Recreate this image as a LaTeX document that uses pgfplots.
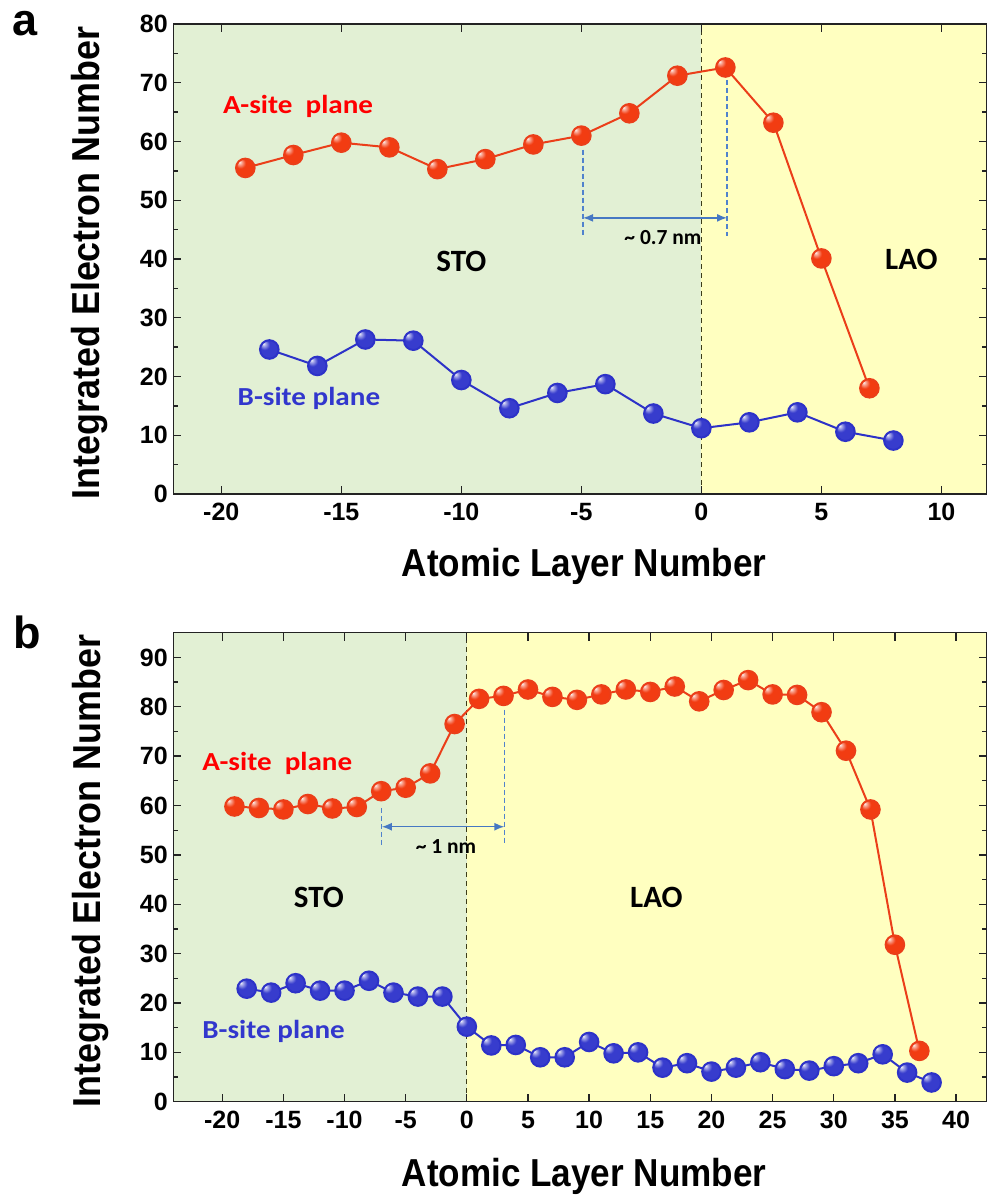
\documentclass[border=0pt]{standalone}
\usepackage{fontspec}
\setmainfont{Liberation Sans}
\newfontfamily\calib{Carlito}
\usepackage{graphicx}
\usepackage{pgfplots}
\pgfplotsset{compat=1.18}
\usetikzlibrary{arrows.meta}
\makeatletter
\pgfdeclareradialshading[tikz@ball]{ball}{\pgfqpoint{-16bp}{16bp}}{%
 color(0bp)=(tikz@ball!5!white);
 color(5bp)=(tikz@ball!45!white);
 color(14bp)=(tikz@ball);
 color(40bp)=(tikz@ball);
 color(55bp)=(tikz@ball!78!black);
 color(75bp)=(tikz@ball!60!black)}
\makeatother
\definecolor{bggreen}{RGB}{226,240,212}
\definecolor{bgyellow}{RGB}{255,255,192}
\definecolor{redline}{RGB}{235,62,25}
\definecolor{redball}{RGB}{242,60,18}
\definecolor{blueline}{RGB}{45,50,200}
\definecolor{blueball}{RGB}{55,60,205}
\definecolor{dashblue}{RGB}{80,130,205}
\definecolor{arrowblue}{RGB}{70,120,195}
\definecolor{labred}{RGB}{255,0,0}
\definecolor{labblue}{RGB}{50,55,205}
\definecolor{axisgray}{RGB}{35,35,35}
\definecolor{olive}{RGB}{60,60,25}
\pgfplotsset{mystyle/.style={
  scale only axis, width=813.7pt,
  axis on top,
  axis line style={line width=1.5pt, color=axisgray},
  tick style={line width=1.3pt, color=axisgray},
  major tick length=8pt, minor tick length=5pt,
  minor y tick num=1,
  /pgf/number format/assume math mode=true,
  ticklabel style={font=\bfseries\fontsize{25}{25}\selectfont},
  xticklabel style={yshift=-6pt},
  yticklabel style={xshift=-2pt},
  xlabel style={font=\bfseries\fontsize{39}{39}\selectfont},
  ylabel style={font=\bfseries\fontsize{39}{39}\selectfont},
  redser/.style={color=redline, line width=2pt, mark=ball, mark size=9.3pt, mark options={ball color=redball}},
  blueser/.style={color=blueline, line width=2pt, mark=ball, mark size=9.3pt, mark options={ball color=blueball}},
}}
\begin{document}
\begin{tikzpicture}
\useasboundingbox (0pt,-1196pt) rectangle (987pt,0pt);
% ---------------- panel a ----------------
\begin{axis}[mystyle,
  at={(173.3pt,-494pt)}, anchor=south west, height=470pt,
  xmin=-22, xmax=11.9, ymin=0, ymax=80,
  xtick={-20,-15,-10,-5,0,5,10}, ytick={0,10,...,80},
  xlabel={\scalebox{0.9}[1]{Atomic Layer Number}},
  xlabel style={at={(axis description cs:0.5,0)}, anchor=base, yshift=-82.7pt, xshift=4pt},
  ylabel={\scalebox{0.92}[1]{Integrated Electron Number}},
  ylabel style={at={([xshift=-73.3pt,yshift=-4pt]axis description cs:0,0.5)}, anchor=base},
]
\fill[bggreen] (axis cs:-22,0) rectangle (axis cs:0,80);
\fill[bgyellow] (axis cs:0,0) rectangle (axis cs:11.9,80);
\draw[olive, line width=1pt, dash pattern=on 5pt off 4pt] (axis cs:0,0) -- (axis cs:0,80);
\draw[dashblue, line width=1.3pt, dash pattern=on 5pt off 3pt] (axis cs:-4.93,58.6) -- (axis cs:-4.93,43.8);
\draw[dashblue, line width=1.3pt, dash pattern=on 5pt off 3pt] (axis cs:1.07,70.5) -- (axis cs:1.07,44.0);
\draw[arrowblue, line width=1.5pt, {Latex[length=10pt,width=8pt]}-{Latex[length=10pt,width=8pt]}] (axis cs:-4.93,47.0) -- (axis cs:1.07,47.0);
\addplot[redser] coordinates {(-19,55.5)(-17,57.7)(-15,59.8)(-13,59.0)(-11,55.3)(-9,57.0)(-7,59.5)(-5,61.0)(-3,64.8)(-1,71.2)(1,72.6)(3,63.2)(5,40.1)(7,18.0)};
\addplot[blueser] coordinates {(-18,24.6)(-16,21.8)(-14,26.3)(-12,26.1)(-10,19.4)(-8,14.6)(-6,17.2)(-4,18.7)(-2,13.7)(0,11.2)(2,12.2)(4,13.9)(6,10.6)(8,9.1)};
\node[font=\calib\bfseries\fontsize{26}{26}\selectfont, text=labred] at (axis cs:-16.8,66) {\scalebox{1.12}[1]{A-site\ \ plane}};
\node[font=\calib\bfseries\fontsize{26}{26}\selectfont, text=labblue] at (axis cs:-16.35,16.3) {\scalebox{1.12}[1]{B-site plane}};
\node[font=\calib\bfseries\fontsize{31}{31}\selectfont] at (axis cs:-10,39.6) {STO};
\node[font=\calib\bfseries\fontsize{31}{31}\selectfont] at (axis cs:8.75,39.9) {LAO};
\node[font=\calib\bfseries\fontsize{21.5}{21.5}\selectfont] at (axis cs:-1.6,43.6) {\textasciitilde\ 0.7 nm};
\end{axis}
% ---------------- panel b ----------------
\begin{axis}[mystyle,
  at={(173.3pt,-1101.7pt)}, anchor=south west, height=469pt,
  xmin=-24, xmax=42.53, ymin=0, ymax=95,
  xtick={-20,-15,...,40}, ytick={0,10,...,90},
  xlabel={\scalebox{0.9}[1]{Atomic Layer Number}},
  xlabel style={at={(axis description cs:0.5,0)}, anchor=base, yshift=-85pt, xshift=4pt},
  ylabel={\scalebox{0.92}[1]{Integrated Electron Number}},
  ylabel style={at={([xshift=-73.3pt,yshift=-4pt]axis description cs:0,0.5)}, anchor=base},
]
\fill[bggreen] (axis cs:-24,0) rectangle (axis cs:0,95);
\fill[bgyellow] (axis cs:0,0) rectangle (axis cs:42.53,95);
\draw[olive, line width=1pt, dash pattern=on 5pt off 4pt] (axis cs:0,0) -- (axis cs:0,95);
\draw[dashblue, line width=1.3pt, dash pattern=on 5pt off 3pt] (axis cs:-6.95,59.5) -- (axis cs:-6.95,52.1);
\draw[dashblue, line width=1.3pt, dash pattern=on 5pt off 3pt] (axis cs:3.07,79.4) -- (axis cs:3.07,52.1);
\draw[arrowblue, line width=1.5pt, {Latex[length=10pt,width=8pt]}-{Latex[length=10pt,width=8pt]}] (axis cs:-6.95,55.7) -- (axis cs:3.07,55.7);
\addplot[redser] coordinates {(-19,59.8)(-17,59.5)(-15,59.2)(-13,60.3)(-11,59.4)(-9,59.7)(-7,62.9)(-5,63.6)(-3,66.5)(-1,76.5)(1,81.6)(3,82.2)(5,83.5)(7,82.0)(9,81.4)(11,82.5)(13,83.5)(15,83.0)(17,84.1)(19,81.1)(21,83.4)(23,85.4)(25,82.5)(27,82.4)(29,78.9)(31,71.1)(33,59.2)(35,31.8)(37,10.3)};
\addplot[blueser] coordinates {(-18,22.9)(-16,22.1)(-14,24.0)(-12,22.5)(-10,22.5)(-8,24.5)(-6,22.1)(-4,21.3)(-2,21.3)(0,15.2)(2,11.4)(4,11.5)(6,9.0)(8,9.0)(10,12.1)(12,9.8)(14,10.0)(16,6.9)(18,7.8)(20,6.1)(22,6.9)(24,8.0)(26,6.6)(28,6.3)(30,7.2)(32,7.8)(34,9.6)(36,5.9)(38,3.9)};
\node[font=\calib\bfseries\fontsize{26}{26}\selectfont, text=labred] at (axis cs:-15.5,68.6) {\scalebox{1.12}[1]{A-site\ \ plane}};
\node[font=\calib\bfseries\fontsize{26}{26}\selectfont, text=labblue] at (axis cs:-15.8,14.2) {\scalebox{1.12}[1]{B-site plane}};
\node[font=\calib\bfseries\fontsize{31}{31}\selectfont] at (axis cs:-12.1,41.3) {STO};
\node[font=\calib\bfseries\fontsize{31}{31}\selectfont] at (axis cs:15.5,41.3) {LAO};
\node[font=\calib\bfseries\fontsize{21.5}{21.5}\selectfont] at (axis cs:-1.7,51.6) {\textasciitilde\ 1 nm};
\end{axis}
\node[anchor=base west, inner sep=0pt, font=\bfseries\fontsize{45}{45}\selectfont] at (12pt,-36pt) {a};
\node[anchor=base west, inner sep=0pt, font=\bfseries\fontsize{45}{45}\selectfont] at (13pt,-648pt) {b};
\end{tikzpicture}
\end{document}
